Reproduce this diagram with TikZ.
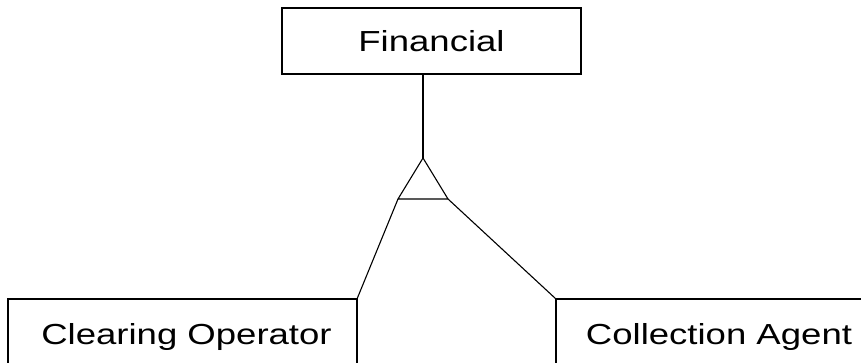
\documentclass[tikz,border=0pt]{standalone}
\usepackage{fontspec}
\setmainfont{Liberation Sans}
\begin{document}
\begin{tikzpicture}[x=1pt,y=-1pt,
  ent/.style={draw=black,line width=1.2pt,rectangle,inner sep=0pt,outer sep=0pt},
  lbl/.style={anchor=base,inner sep=0pt,font=\fontsize{29}{34}\selectfont},
  conn/.style={draw=black,line width=1.1pt}]
\useasboundingbox (0,0) rectangle (861,363);
\clip (0,0) rectangle (861,363);
% entity boxes
\node[ent,minimum width=299pt,minimum height=66pt] (fin) at (431.5,41) {};
\node[ent,minimum width=349pt,minimum height=100pt] (clr) at (182.5,349) {};
\node[ent,minimum width=326pt,minimum height=100pt] (col) at (719,349) {};
% labels
\node[lbl] (tfin) at (431.5,52) {\scalebox{1.26}[1]{Financial}};
\node[lbl] (tclr) at (186.5,344) {\scalebox{1.26}[1]{Clearing Operator}};
\node[lbl] (tcol) at (719,344) {\scalebox{1.26}[1]{Collection Agent}};
% generalisation triangle
\coordinate (apex) at (423,158);
\coordinate (bl) at (398,199);
\coordinate (br) at (448,199);
\draw[conn,line join=miter] (apex) -- (bl) -- (br) -- cycle;
% connectors
\draw[conn] (apex) -- (apex |- fin.south);
\draw[conn] (bl) -- (clr.north east);
\draw[conn] (br) -- (col.north west);
\end{tikzpicture}
\end{document}
